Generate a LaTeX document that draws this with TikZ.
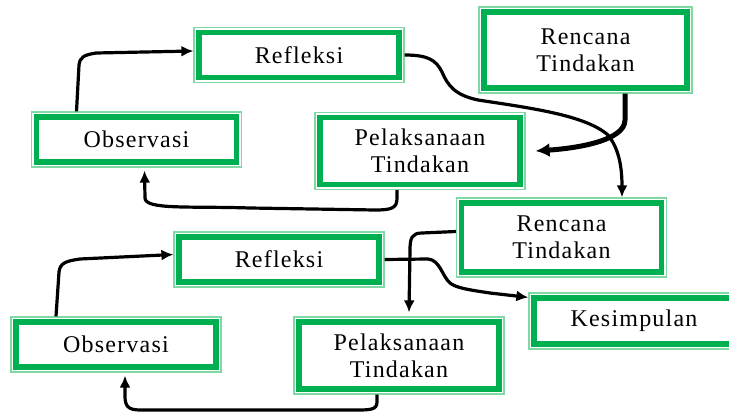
\documentclass[tikz,border=0pt]{standalone}
\usepackage{fontspec}
\setmainfont{Liberation Serif}[LetterSpace=5]
\usetikzlibrary{arrows.meta}
\definecolor{boxgreen}{HTML}{00B050}
\definecolor{rimgreen}{HTML}{80D8A2}
\begin{document}
\begin{tikzpicture}[x=1pt,y=-1pt,
	box/.style={draw=rimgreen, line width=1.2pt,
		minimum width=210pt, minimum height=55pt,
		align=center, inner sep=2pt,
		font=\fontsize{24}{27}\selectfont,
		path picture={\draw[boxgreen, line width=5.5pt]
			([xshift=4.8pt,yshift=-4.8pt]path picture bounding box.north west) rectangle
			([xshift=-4.8pt,yshift=4.8pt]path picture bounding box.south east);}},
	tall/.style={box, minimum height=77pt},
	link/.style={line width=3.2pt, line join=round, -{Latex[length=12pt,width=11pt]}}]
	\useasboundingbox (0,0) rectangle (729,415);
	\node[box] (refA) at (299,55) {Refleksi};
	\node[box] (obsA) at (136.5,139.5) {Observasi};
	\node[tall] (pelA) at (420,151) {Pelaksanaan\\Tindakan};
	\node[tall, minimum width=213pt, minimum height=86pt] (renA) at (585.5,50) {Rencana\\Tindakan};
	\node[tall, minimum height=79pt] (renB) at (561.5,237.5) {Rencana\\Tindakan};
	\node[box] (refB) at (279,259.5) {Refleksi};
	\node[box] (obsB) at (116,344.5) {Observasi};
	\node[tall] (pelB) at (399,355.5) {Pelaksanaan\\Tindakan};
	\node[box, minimum height=56pt] (kes) at (634,321) {Kesimpulan};
	
	\draw[link] ([xshift=-60pt]obsA.north) -- (79,65) .. controls (80,57) and (84,55) .. (96,53) -- ([yshift=4pt]refA.west);
	\draw[link] (refA.east) .. controls (428,55) and (436,60) .. (442,72)
		.. controls (448,86) and (455,95) .. (478,100)
		.. controls (530,108) and (585,115) .. (608,135)
		.. controls (620,150) and (622,170) .. ([xshift=60.5pt]renB.north);
	\draw[link, line width=5pt, -{Latex[length=14pt,width=14pt]}] ([xshift=39.5pt]renA.south) -- (625,120)
		.. controls (625,140) and (580,148) .. ([xshift=10pt]pelA.east);
	\draw[link] ([xshift=-23pt]pelA.south) -- (397,198) .. controls (397,208) and (392,210) .. (375,210)
		-- (250,208) .. controls (190,206) and (145,210) .. (145,198) -- ([xshift=8pt,yshift=-3pt]obsA.south);
	
	\draw[link] ([yshift=6pt]renB.west) -- (422,233) .. controls (412,233) and (410,238) .. (410,250)
		-- ([xshift=10pt,yshift=4pt]pelB.north);
	\draw[link] ([xshift=-60pt]obsB.north) -- (59,272) .. controls (60,263) and (66,261) .. (80,259) -- ([yshift=5pt]refB.west);
	\draw[link] (refB.east) -- (428,259) .. controls (440,260) and (442,276) .. (450,283)
		.. controls (456,288) and (470,290) .. (490,293) -- ([yshift=-5pt]kes.north west);
	\draw[link] ([xshift=-22pt]pelB.south) -- (377,402) .. controls (377,410) and (370,410) .. (355,410)
		-- (140,410) .. controls (128,410) and (125,406) .. (125,396) -- ([xshift=9pt,yshift=-3pt]obsB.south);
\end{tikzpicture}
\end{document}
